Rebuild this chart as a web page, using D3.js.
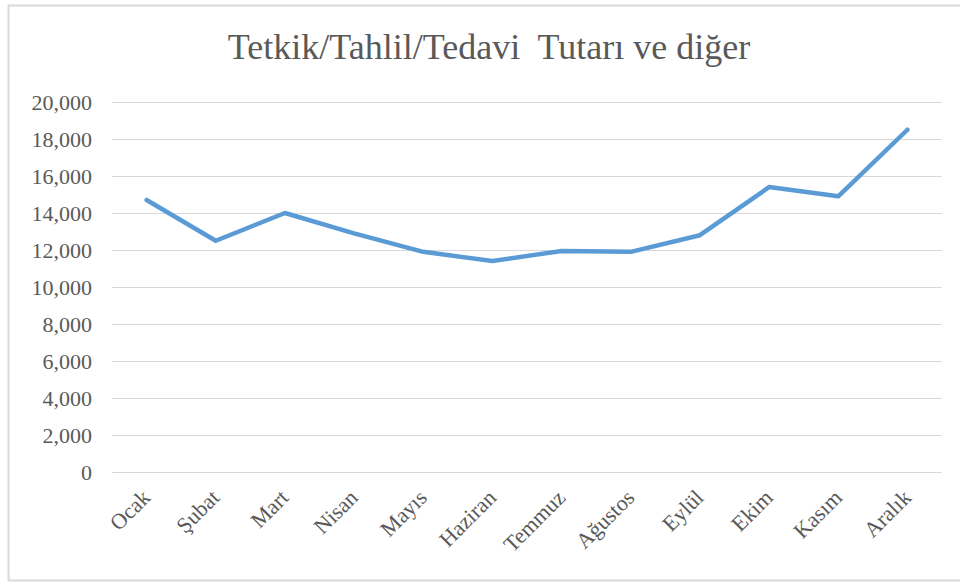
<!DOCTYPE html>
<html>
<head>
<meta charset="utf-8">
<script src="https://cdn.jsdelivr.net/npm/d3@7"></script>
<style>
  body { margin: 0; background: #fff; }
  text { font-family: "Liberation Serif", "Times New Roman", serif; fill: #595959; }
</style>
</head>
<body>
<div id="chart"></div>
<script>
// chart data
const months = ['Ocak', 'Şubat', 'Mart', 'Nisan', 'Mayıs', 'Haziran',
  'Temmuz', 'Ağustos', 'Eylül', 'Ekim', 'Kasım', 'Aralık'];
const amounts = [14700, 12500, 14000, 12900, 11900, 11400,
  11950, 11900, 12800, 15400, 14900, 18500];
const yTicks = [0, 2000, 4000, 6000, 8000, 10000, 12000, 14000, 16000, 18000, 20000];
const title = 'Tetkik/Tahlil/Tedavi  Tutarı ve diğer';

const width = 960, height = 583;
const plot = {left: 112, right: 942, top: 102, bottom: 472};

const svg = d3.select('#chart').append('svg')
  .attr('width', width).attr('height', height);

// outer chart frame (right side runs off the picture)
svg.append('rect')
  .attr('x', 8.5).attr('y', 5.5)
  .attr('width', 1000).attr('height', 575)
  .attr('fill', 'none').attr('stroke', '#d9d9d9').attr('stroke-width', 2);

const x = d3.scaleBand().domain(months).range([plot.left, plot.right]);
const y = d3.scaleLinear().domain([0, 20000]).range([plot.bottom, plot.top]);

// title (keep the double space)
svg.append('text')
  .attr('x', 489).attr('y', 59)
  .attr('text-anchor', 'middle')
  .style('font-size', '36px')
  .style('white-space', 'pre')
  .text(title);

// y axis with gridlines
const yAxis = svg.append('g')
  .attr('transform', `translate(${plot.left},0)`)
  .call(d3.axisLeft(y).tickValues(yTicks)
    .tickSize(-(plot.right - plot.left)).tickPadding(20)
    .tickFormat(d3.format(',')));
yAxis.select('.domain').remove();
yAxis.selectAll('.tick line').attr('stroke', '#d9d9d9').attr('stroke-width', 1);
yAxis.selectAll('.tick text').style('font-size', '22px').attr('fill', '#595959');

// x axis labels, rotated
const xAxis = svg.append('g')
  .attr('transform', `translate(0,${plot.bottom})`)
  .call(d3.axisBottom(x).tickSize(0).tickPadding(0));
xAxis.select('.domain').remove();
xAxis.selectAll('.tick text')
  .style('font-size', '22px').attr('fill', '#595959')
  .attr('text-anchor', 'end')
  .attr('dy', null)
  .attr('transform', 'translate(5,27) rotate(-45)');

// series line
const line = d3.line()
  .x((d, i) => x(months[i]) + x.bandwidth() / 2)
  .y(d => y(d));

svg.append('path')
  .datum(amounts)
  .attr('d', line)
  .attr('fill', 'none')
  .attr('stroke', '#5b9bd5')
  .attr('stroke-width', 4.5)
  .attr('stroke-linejoin', 'round')
  .attr('stroke-linecap', 'round');
</script>
</body>
</html>
